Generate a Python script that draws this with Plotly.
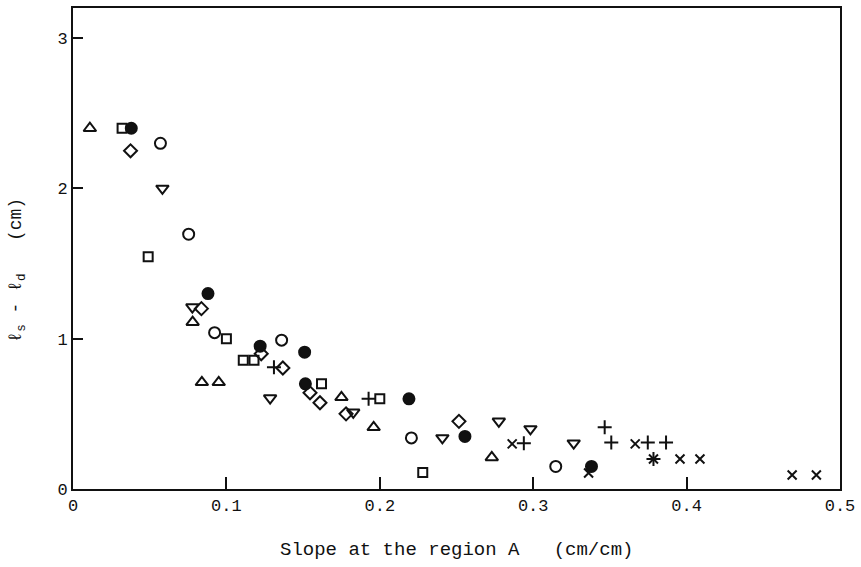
import plotly.graph_objects as go

# Data
tri_up_x = [0.011, 0.078, 0.084, 0.095, 0.175, 0.196, 0.273]
tri_up_y = [2.40, 1.11, 0.71, 0.71, 0.61, 0.41, 0.21]

square_x = [0.032, 0.049, 0.100, 0.111, 0.118, 0.162, 0.200, 0.228]
square_y = [2.40, 1.545, 1.00, 0.856, 0.856, 0.70, 0.60, 0.11]

filled_x = [0.038, 0.088, 0.122, 0.151, 0.1515, 0.219, 0.2555, 0.338]
filled_y = [2.40, 1.30, 0.95, 0.91, 0.70, 0.60, 0.35, 0.15]

open_circle_x = [0.057, 0.0754, 0.0923, 0.136, 0.2206, 0.3147]
open_circle_y = [2.30, 1.695, 1.04, 0.99, 0.34, 0.15]

diamond_x = [0.0375, 0.0837, 0.1227, 0.1368, 0.1545, 0.161, 0.178, 0.2516]
diamond_y = [2.25, 1.20, 0.90, 0.805, 0.64, 0.574, 0.50, 0.45]

tri_down_x = [0.0583, 0.0778, 0.1285, 0.1827, 0.2408, 0.2776, 0.2982, 0.3264]
tri_down_y = [2.00, 1.21, 0.605, 0.51, 0.34, 0.45, 0.40, 0.305]

plus_x = [0.131, 0.1927, 0.2939, 0.3466, 0.3509, 0.3747, 0.3784, 0.3866]
plus_y = [0.81, 0.60, 0.305, 0.41, 0.31, 0.31, 0.20, 0.31]

cross_x = [0.2863, 0.3361, 0.3665, 0.3784, 0.3957, 0.4087, 0.4688, 0.4846]
cross_y = [0.30, 0.106, 0.30, 0.20, 0.20, 0.20, 0.093, 0.093]

x_ticks = [0, 0.1, 0.2, 0.3, 0.4, 0.5]
x_tick_labels = ["0", "0.1", "0.2", "0.3", "0.4", "0.5"]
y_ticks = [0, 1, 2, 3]
y_tick_labels = ["0", "1", "2", "3"]

x_title = "Slope at the region A   (cm/cm)"
y_title = "ℓ<sub>s</sub> - ℓ<sub>d</sub>   (cm)"

FONT = "Liberation Mono, Courier New, monospace"
BLACK = "#111111"

series = [
    (tri_up_x, tri_up_y, "triangle-up-open", 11),
    (square_x, square_y, "square-open", 9),
    (filled_x, filled_y, "circle", 11),
    (open_circle_x, open_circle_y, "circle-open", 11),
    (diamond_x, diamond_y, "diamond-open", 10),
    (tri_down_x, tri_down_y, "triangle-down-open", 11),
    (plus_x, plus_y, "cross-thin-open", 10),
    (cross_x, cross_y, "x-thin-open", 9),
]

fig = go.Figure()
for xs, ys, sym, sz in series:
    fig.add_trace(go.Scatter(
        x=xs, y=ys, mode="markers",
        marker=dict(symbol=sym, size=sz, color=BLACK,
                    line=dict(color=BLACK, width=2)),
        showlegend=False, hoverinfo="x+y",
    ))

fig.update_layout(
    width=861, height=567,
    margin=dict(l=73, r=19, t=6, b=78),
    paper_bgcolor="white", plot_bgcolor="white",
    font=dict(family=FONT, size=17, color=BLACK),
    xaxis=dict(range=[0, 0.5], tickvals=x_ticks, ticktext=x_tick_labels,
               ticks="inside", ticklen=12, tickwidth=2, tickcolor=BLACK,
               showline=True, linewidth=2, linecolor=BLACK, mirror=True,
               showgrid=False, zeroline=False,
               tickfont=dict(family=FONT, size=17, color=BLACK)),
    yaxis=dict(range=[0, 3.2], tickvals=y_ticks, ticktext=y_tick_labels,
               ticks="inside", ticklen=10, tickwidth=2, tickcolor=BLACK,
               showline=True, linewidth=2, linecolor=BLACK, mirror=True,
               showgrid=False, zeroline=False,
               tickfont=dict(family=FONT, size=17, color=BLACK)),
    annotations=[
        dict(text=x_title, xref="paper", yref="paper", x=0.5, y=-0.1,
             xanchor="center", yanchor="top", showarrow=False,
             font=dict(family=FONT, size=19, color=BLACK)),
        dict(text=y_title, xref="paper", yref="paper", x=-0.09, y=0.455,
             xanchor="left", yanchor="middle", textangle=-90, showarrow=False,
             font=dict(family=FONT, size=18, color=BLACK)),
    ],
)

fig.write_html(
    "out.html",
    config={"displayModeBar": False},
    post_script="document.body.style.margin='0';document.body.style.padding='0';",
)
